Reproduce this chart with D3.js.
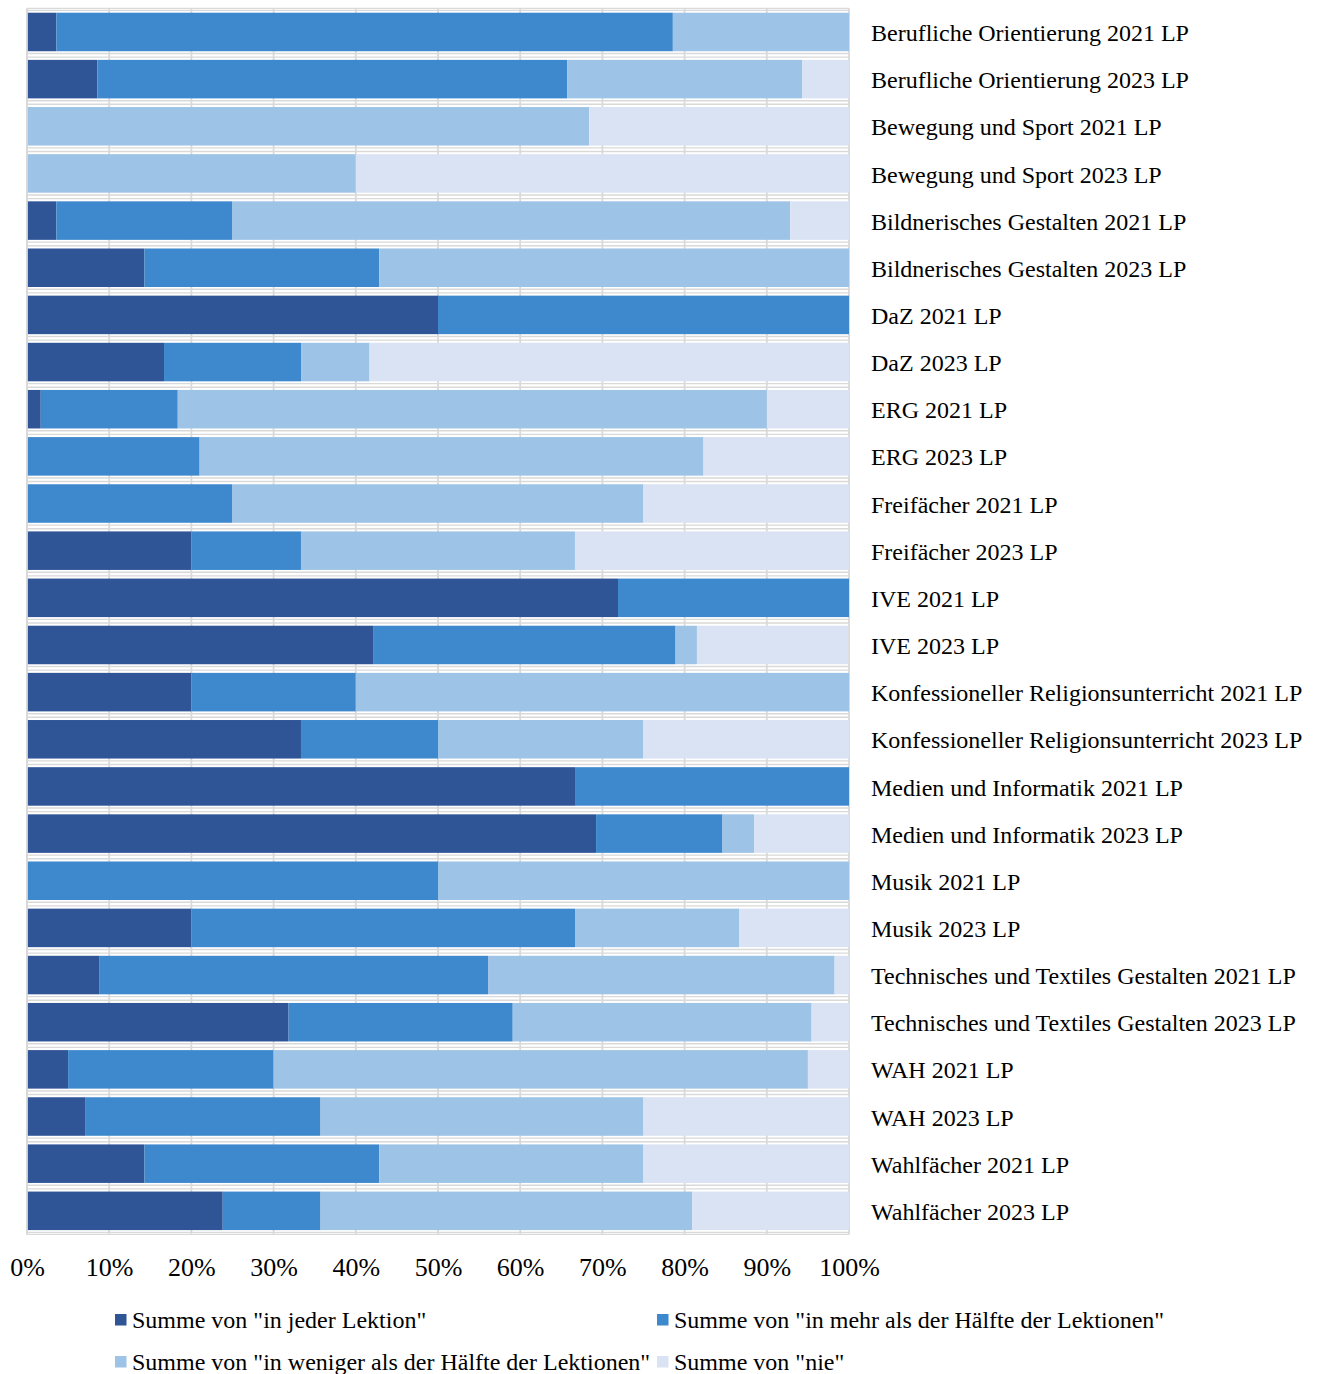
<!DOCTYPE html>
<html>
<head>
<meta charset="utf-8">
<script src="https://cdn.jsdelivr.net/npm/d3@7"></script>
<style>
  html, body { margin: 0; padding: 0; background: #fff; }
  svg { display: block; }
  text { font-family: "Liberation Serif", "Times New Roman", serif; fill: #000; }
</style>
</head>
<body>
<svg id="chart" width="1317" height="1374"></svg>
<script>
const categories = [
  "Berufliche Orientierung 2021 LP",
  "Berufliche Orientierung 2023 LP",
  "Bewegung und Sport 2021 LP",
  "Bewegung und Sport 2023 LP",
  "Bildnerisches Gestalten 2021 LP",
  "Bildnerisches Gestalten 2023 LP",
  "DaZ 2021 LP",
  "DaZ 2023 LP",
  "ERG 2021 LP",
  "ERG 2023 LP",
  "Freifächer 2021 LP",
  "Freifächer 2023 LP",
  "IVE 2021 LP",
  "IVE 2023 LP",
  "Konfessioneller Religionsunterricht 2021 LP",
  "Konfessioneller Religionsunterricht 2023 LP",
  "Medien und Informatik 2021 LP",
  "Medien und Informatik 2023 LP",
  "Musik 2021 LP",
  "Musik 2023 LP",
  "Technisches und Textiles Gestalten 2021 LP",
  "Technisches und Textiles Gestalten 2023 LP",
  "WAH 2021 LP",
  "WAH 2023 LP",
  "Wahlfächer 2021 LP",
  "Wahlfächer 2023 LP"
];

const seriesNames = [
  'Summe von "in jeder Lektion"',
  'Summe von "in mehr als der Hälfte der Lektionen"',
  'Summe von "in weniger als der Hälfte der Lektionen"',
  'Summe von "nie"'
];

// values in percent
const inJederLektion = [3.57, 8.57, 0, 0, 3.57, 14.29, 50, 16.67, 1.67, 0, 0, 20, 71.9, 42.1, 20, 33.33, 66.67, 69.23, 0, 20, 8.77, 31.82, 5, 7.14, 14.29, 23.81];
const mehrAlsHaelfte = [75, 57.14, 0, 0, 21.43, 28.57, 50, 16.67, 16.67, 21.0, 25, 13.33, 28.1, 36.8, 20, 16.67, 33.33, 15.38, 50, 46.67, 47.37, 27.27, 25, 28.57, 28.57, 11.9];
const wenigerAlsHaelfte = [21.43, 28.57, 68.4, 40, 67.86, 57.14, 0, 8.33, 71.67, 61.3, 50, 33.33, 0, 2.6, 60, 25, 0, 3.85, 50, 20, 42.11, 36.36, 65, 39.29, 32.14, 45.24];
const nie = [0, 5.71, 31.6, 60, 7.14, 0, 0, 58.33, 10, 17.7, 25, 33.33, 0, 18.4, 0, 25, 0, 11.54, 0, 13.33, 1.75, 4.55, 5, 25, 25, 19.05];

const tickValues = [0, 10, 20, 30, 40, 50, 60, 70, 80, 90, 100];

const colors = ["#2f5597", "#3e89cd", "#9dc3e6", "#dae3f3"];

const seriesArrays = [inJederLektion, mehrAlsHaelfte, wenigerAlsHaelfte, nie];
const keys = ["s0", "s1", "s2", "s3"];
const table = categories.map((c, i) => {
  const row = { cat: c };
  keys.forEach((k, j) => row[k] = seriesArrays[j][i]);
  return row;
});
const stacked = d3.stack().keys(keys)(table);

const svg = d3.select("#chart");
const x0 = 27, x1 = 849, yTop = 8.4, yBot = 1234.4;

const x = d3.scaleLinear().domain([0, 100]).range([x0, x1]);
const y = d3.scaleBand().domain(categories).range([yTop, yBot]).paddingInner(0.183).paddingOuter(0.0915);

const grid = svg.append("g");
const gridColor = "#d9d9d9";
// vertical gridlines
grid.selectAll("line.v").data(tickValues).join("line")
  .attr("x1", d => x(d)).attr("x2", d => x(d))
  .attr("y1", yTop).attr("y2", yBot)
  .attr("stroke", gridColor).attr("stroke-width", 1.8);
// horizontal category boundaries (double lines)
const step = y.step();
const bounds = d3.range(categories.length + 1).map(i => yTop + i * step);
bounds.forEach((b, i) => {
  const offs = i === 0 ? [0, 2] : (i === categories.length ? [-2, 0] : [-2, 1.6]);
  offs.forEach(o => {
    grid.append("line")
      .attr("x1", x0).attr("x2", x1)
      .attr("y1", b + o).attr("y2", b + o)
      .attr("stroke", gridColor).attr("stroke-width", 1.4);
  });
});

// bars
svg.append("g").selectAll("g").data(stacked).join("g")
  .attr("fill", (d, i) => colors[i])
  .selectAll("rect").data(d => d).join("rect")
  .attr("x", d => x(d[0]))
  .attr("width", d => Math.max(0, x(d[1]) - x(d[0])))
  .attr("y", d => y(d.data.cat))
  .attr("height", y.bandwidth());

// left axis line
svg.append("line").attr("x1", x0).attr("x2", x0).attr("y1", yTop).attr("y2", yBot)
  .attr("stroke", gridColor).attr("stroke-width", 1.8);

// category labels
svg.append("g").selectAll("text").data(categories).join("text")
  .attr("x", 871)
  .attr("y", d => y(d) + y.bandwidth() / 2)
  .attr("dy", "0.38em")
  .style("font-size", "24px")
  .text(d => d);

// x axis tick labels
const xAxis = d3.axisBottom(x).tickValues(tickValues).tickSize(0).tickPadding(0).tickFormat(d => d + "%");
const ax = svg.append("g").attr("transform", `translate(0, ${1258})`).call(xAxis);
ax.select(".domain").remove();
ax.selectAll("text").style("font-size", "26px").style("font-family", '"Liberation Serif", "Times New Roman", serif').attr("fill", "#000");

// legend
const legendItems = [
  { x: 115, y: 1314 }, { x: 657, y: 1314 },
  { x: 115, y: 1356 }, { x: 657, y: 1356 }
];
const lg = svg.append("g");
seriesNames.forEach((n, i) => {
  const p = legendItems[i];
  lg.append("rect").attr("x", p.x).attr("y", p.y).attr("width", 11.5).attr("height", 11.5).attr("fill", colors[i]);
  lg.append("text").attr("x", p.x + 17).attr("y", p.y + 6).attr("dy", "0.35em")
    .style("font-size", "24px").text(n);
});
</script>
</body>
</html>
